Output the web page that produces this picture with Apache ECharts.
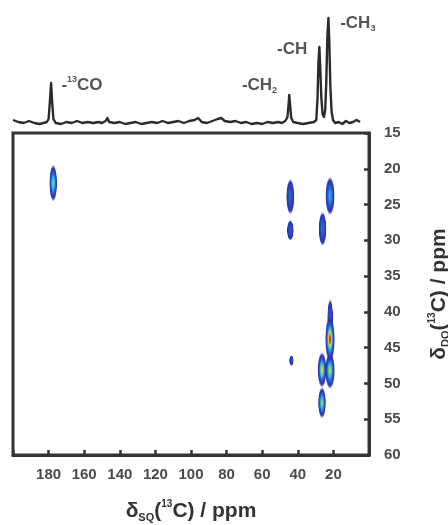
<!DOCTYPE html>
<html>
<head>
<meta charset="utf-8">
<title>DQ-SQ 13C correlation</title>
<script src="https://cdn.jsdelivr.net/npm/echarts@6/dist/echarts.min.js"></script>
<style>
  html, body { margin: 0; padding: 0; background: #fff; }
  #chart { width: 448px; height: 525px; }
</style>
</head>
<body>
<div id="chart"></div>
<script>
// ---- 1D 13C projection (SQ dimension): chemical shift (ppm) and intensity ----
const specPpm = [200, 197, 194, 191, 188, 185, 183, 181, 180, 179.3, 178.6, 178.0, 177.3, 176, 173, 170,
  167, 164, 161, 158, 155, 152, 150, 148, 147, 146, 143, 140, 137, 134, 131, 128, 125, 122, 119, 116,
  113, 110, 107, 104, 101, 98, 96, 95, 94, 91, 88, 85, 83, 81, 78, 75, 72, 69, 66, 63, 60, 57, 54, 51,
  49, 47, 45.8, 45.2, 44.8, 44.3, 43.7, 42.5, 40, 37, 34, 31, 29.6, 28.9, 28.4, 27.9, 27.4, 26.8, 26.1,
  25.3, 24.6, 24.0, 23.4, 22.8, 22.3, 21.7, 21.0, 20.2, 19, 17, 15, 13, 11, 9, 7, 5];
const specInt = [2, 0, -1, 1, -1, -2, -1, 0, 3, 20, 39, 20, 3, -1, -2, 0,
  -1, 1, -1, 0, -1, 0, -1, 1, 4, 0, -1, 0, -2, -1, 0, -2, -1, 0, -1, 1,
  -1, 0, 1, -1, 1, 2, 4, 2, 0, -1, 1, 3, 4, 1, 0, 1, -1, 0, -2, -1, -2, 0, -1, 0,
  -1, 1, 5, 17, 27, 17, 4, 0, -1, -2, -1, 0, 2, 25, 60, 75, 55, 25, 8,
  5, 12, 40, 85, 104, 80, 35, 10, 2, -1, 0, -2, 1, -1, 0, 2, 0];

// ---- assignment labels on the projection ----
const assignText = ['{t|-}{sup|13}{t|CO}', '{t|-CH}{sub|2}', '{t|-CH}', '{t|-CH}{sub|3}'];
const assignPpm = [172.8, 71.4, 51.7, 16.2];
const assignHeight = [37, 37, 73, 99];

// ---- 2D DQ/SQ cross peaks ----
const peakSQ =    [177.4, 44.2, 44.2, 21.9, 26.1, 43.6, 21.8, 21.9, 26.4, 26.4, 21.9];
const peakDQ =    [22.0,  23.9, 28.6, 23.8, 28.4, 46.8, 40.8, 48.2, 52.7, 48.1, 43.8];
const peakAmp =   [0.58,  0.22, 0.18, 0.40, 0.26, 0.15, 0.20, 0.66, 0.62, 0.72, 0.95];
const peakHalfSQ = [2.3,  2.4,  2.0,  2.7,  2.3,  1.3,  1.7,  2.8,  2.3,  2.6,  2.8];
const peakHalfDQ = [2.6,  2.5,  1.45, 2.7,  2.4,  0.75, 2.6,  2.6,  2.2,  2.5,  3.3];

// ---- axis ticks ----
const sqMin = 0, sqMax = 200, sqStep = 20;
const dqMin = 15, dqMax = 60, dqStep = 5;

const FONT = '"Liberation Sans", Arial, sans-serif';

// jet-like colour ramp used for the contour fill
const ramp = [
  [0.00, [30, 30, 140]],
  [0.12, [45, 62, 190]],
  [0.30, [40, 120, 220]],
  [0.42, [40, 185, 230]],
  [0.52, [80, 200, 150]],
  [0.62, [190, 215, 50]],
  [0.74, [245, 205, 30]],
  [0.86, [235, 70, 35]],
  [1.00, [190, 20, 20]]
];
function rampColor(v, a) {
  v = Math.max(0, Math.min(1, v));
  for (let i = 1; i < ramp.length; i++) {
    if (v <= ramp[i][0]) {
      const p = ramp[i - 1], q = ramp[i];
      const f = (v - p[0]) / (q[0] - p[0]);
      const c = p[1].map((x, k) => Math.round(x + (q[1][k] - x) * f));
      return 'rgba(' + c.join(',') + ',' + a + ')';
    }
  }
  return 'rgba(190,20,20,' + a + ')';
}
const floorLevel = 0.08;
function peakGradient(amp) {
  const stops = [];
  const n = 10;
  for (let i = 0; i <= n; i++) {
    const t = i / n;                       // 0 centre .. 1 contour edge
    const lev = amp * Math.pow(floorLevel / amp, t * t);
    stops.push({ offset: t * 0.8, color: rampColor(lev, 1) });
  }
  stops.push({ offset: 0.9, color: rampColor(floorLevel, 0.5) });
  stops.push({ offset: 1.0, color: rampColor(floorLevel, 0) });
  return { type: 'radial', x: 0.5, y: 0.5, r: 0.5, colorStops: stops };
}

const spectrum = specPpm.map((p, i) => [p, specInt[i]]);
const labels = assignText.map((t, i) => ({ value: [assignPpm[i], assignHeight[i]], text: t }));
const peaks = peakSQ.map((x, i) => [x, peakDQ[i], peakAmp[i], peakHalfSQ[i], peakHalfDQ[i]])
  .sort((a, b) => a[2] - b[2]);

const tickLabelStyle = { color: '#4a4a4a', fontFamily: FONT, fontWeight: 'bold', fontSize: 15 };
const axisLine = { show: true, lineStyle: { color: '#333', width: 3 } };
const axisTick = { show: true, inside: true, length: 5, lineStyle: { color: '#333', width: 2.5 } };
const nameRich = {
  d: { fontFamily: FONT, fontWeight: 'bold', fontSize: 21, color: '#333', lineHeight: 24 },
  sub: { fontFamily: FONT, fontWeight: 'bold', fontSize: 11, color: '#333', verticalAlign: 'bottom', lineHeight: 12 },
  sup: { fontFamily: FONT, fontWeight: 'bold', fontSize: 10, color: '#333', verticalAlign: 'top', lineHeight: 12 }
};

const chart = echarts.init(document.getElementById('chart'), null, { renderer: 'canvas' });
chart.setOption({
  animation: false,
  backgroundColor: '#fff',
  grid: [
    { left: 13, right: 79, top: 12, bottom: 395, show: false, containLabel: false, outerBoundsMode: 'none' },
    { left: 13, right: 79, top: 133, bottom: 70, show: true, borderColor: '#333', borderWidth: 3,
      containLabel: false, outerBoundsMode: 'none' }
  ],
  xAxis: [
    { gridIndex: 0, type: 'value', min: sqMin, max: sqMax, inverse: true, show: false },
    {
      gridIndex: 1, type: 'value', min: sqMin, max: sqMax, interval: sqStep, inverse: true,
      position: 'bottom', splitLine: { show: false }, axisLine: axisLine, axisTick: axisTick,
      axisLabel: Object.assign({ margin: 12, formatter: v => (v === sqMin || v === sqMax) ? '' : String(v) }, tickLabelStyle),
      name: '{d|δ}{sub|SQ}{d|(}{sup|13}{d|C) / ppm}', nameLocation: 'middle', nameGap: 44,
      nameTextStyle: { rich: nameRich }
    }
  ],
  yAxis: [
    { gridIndex: 0, type: 'value', min: -8, max: 110, show: false },
    {
      gridIndex: 1, type: 'value', min: dqMin, max: dqMax, interval: dqStep, inverse: true,
      position: 'right', splitLine: { show: false }, axisLine: axisLine, axisTick: axisTick,
      axisLabel: Object.assign({ margin: 15 }, tickLabelStyle),
      name: '{d|δ}{sub|DQ}{d|(}{sup|13}{d|C) / ppm}', nameLocation: 'middle', nameGap: 58, nameRotate: 90,
      nameTextStyle: { rich: nameRich }
    }
  ],
  series: [
    {
      type: 'line', xAxisIndex: 0, yAxisIndex: 0, data: spectrum, showSymbol: false,
      lineStyle: { color: '#2b2b2b', width: 2.4, join: 'round' }, silent: true
    },
    {
      type: 'scatter', xAxisIndex: 0, yAxisIndex: 0, symbolSize: 0, silent: true,
      data: labels,
      label: {
        show: true, position: 'right', distance: 0,
        formatter: p => p.data.text,
        rich: {
          t: { fontFamily: FONT, fontWeight: 'bold', fontSize: 17, color: '#2b2b2b', lineHeight: 20 },
          sub: { fontFamily: FONT, fontWeight: 'bold', fontSize: 9, color: '#2b2b2b', verticalAlign: 'bottom', lineHeight: 10 },
          sup: { fontFamily: FONT, fontWeight: 'bold', fontSize: 9, color: '#2b2b2b', verticalAlign: 'top', lineHeight: 10 }
        }
      }
    },
    {
      type: 'custom', xAxisIndex: 1, yAxisIndex: 1, data: peaks, clip: true, silent: true,
      renderItem: function (params, api) {
        const c = api.coord([api.value(0), api.value(1)]);
        const s = api.size([api.value(3), api.value(4)]);
        const rx = Math.abs(s[0]), ry = Math.abs(s[1]);
        return {
          type: 'circle',
          x: c[0], y: c[1],
          scaleX: rx / ry, scaleY: 1,
          shape: { cx: 0, cy: 0, r: ry },
          style: { fill: peakGradient(api.value(2)) }
        };
      }
    }
  ]
});
</script>
</body>
</html>
